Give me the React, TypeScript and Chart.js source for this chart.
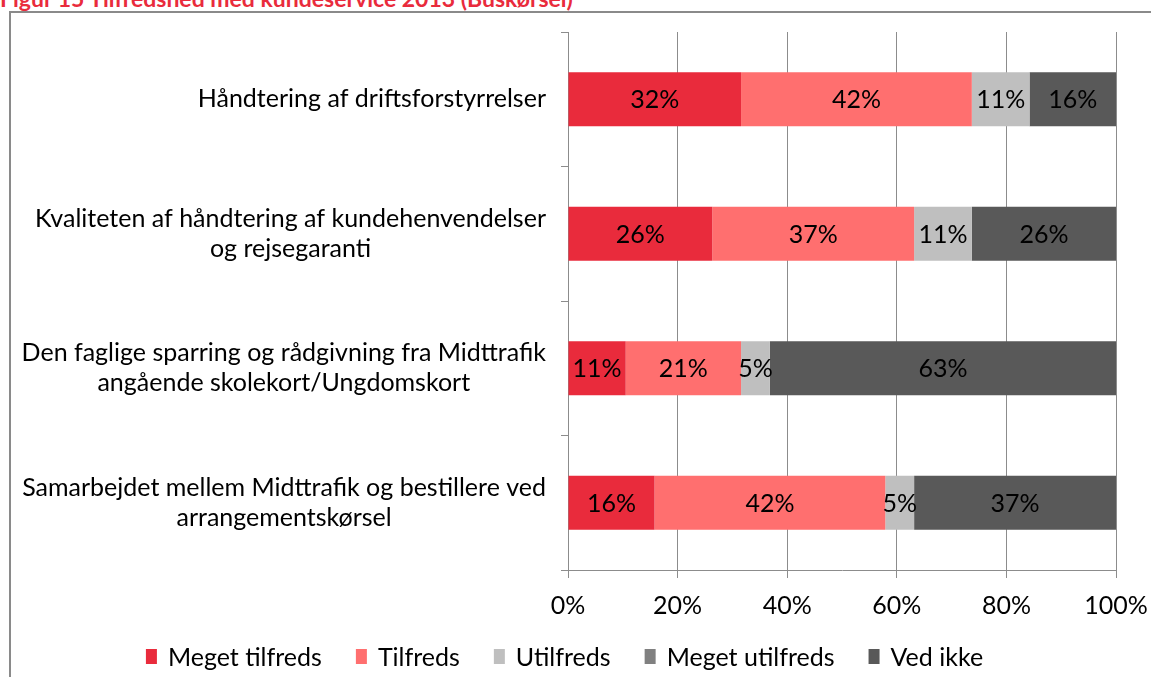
import React, { useEffect, useRef } from "react";
import { Chart, registerables } from "chart.js";

Chart.register(...registerables);

const TITLE = "Figur 15 Tilfredshed med kundeservice 2013 (Buskørsel)";

const categories: string[][] = [
  ["Håndtering af driftsforstyrrelser"],
  ["Kvaliteten af håndtering af kundehenvendelser", "og rejsegaranti"],
  ["Den faglige sparring og rådgivning fra Midttrafik", "angående skolekort/Ungdomskort"],
  ["Samarbejdet mellem Midttrafik og bestillere ved", "arrangementskørsel"],
];

const seriesNames = ["Meget tilfreds", "Tilfreds", "Utilfreds", "Meget utilfreds", "Ved ikke"];
const seriesColors = ["#E92B3C", "#FF6F6F", "#BFBFBF", "#808080", "#595959"];

const megetTilfreds = [31.58, 26.32, 10.53, 15.79];
const tilfreds = [42.11, 36.84, 21.05, 42.11];
const utilfreds = [10.53, 10.53, 5.26, 5.26];
const megetUtilfreds = [0, 0, 0, 0];
const vedIkke = [15.79, 26.32, 63.16, 36.84];

const xTicks = [0, 20, 40, 60, 80, 100];

const FONT = "Lato";
const FS = 25;
const GRID = "#8C8C8C";

const valueLabels = {
  id: "valueLabels",
  afterDatasetsDraw(chart: any) {
    const ctx = chart.ctx;
    ctx.save();
    ctx.font = `${FS}px ${FONT}`;
    ctx.fillStyle = "#000";
    ctx.textAlign = "center";
    ctx.textBaseline = "middle";
    chart.data.datasets.forEach((ds: any, di: number) => {
      const meta = chart.getDatasetMeta(di);
      meta.data.forEach((bar: any, i: number) => {
        const v = ds.data[i];
        if (!v) return;
        ctx.fillText(`${Math.round(v)}%`, (bar.x + bar.base) / 2, bar.y + 1);
      });
    });
    ctx.restore();
  },
};

const categoryLabels = {
  id: "categoryLabels",
  afterDraw(chart: any) {
    const ctx = chart.ctx;
    const y = chart.scales.y;
    const right = chart.chartArea.left - 22;
    const lh = 30;
    ctx.save();
    ctx.font = `${FS}px ${FONT}`;
    ctx.fillStyle = "#000";
    ctx.textAlign = "center";
    ctx.textBaseline = "middle";
    categories.forEach((lines, i) => {
      const cy = y.getPixelForTick(i);
      const w = Math.max(...lines.map((l) => ctx.measureText(l).width));
      const cx = right - w / 2;
      const y0 = cy - ((lines.length - 1) * lh) / 2;
      lines.forEach((l, k) => ctx.fillText(l, cx, y0 + k * lh));
    });
    ctx.restore();
  },
};

const bottomLegend = {
  id: "bottomLegend",
  afterDraw(chart: any) {
    const ctx = chart.ctx;
    const boxW = 11;
    const boxH = 15;
    const gap = 11;
    const spacing = 34;
    ctx.save();
    ctx.font = `${FS}px ${FONT}`;
    const items = chart.data.datasets.map((ds: any) => ({
      text: ds.label,
      color: ds.backgroundColor,
      w: ctx.measureText(ds.label).width,
    }));
    const total =
      items.reduce((s: number, it: any) => s + boxW + gap + it.w, 0) + spacing * (items.length - 1);
    let x = chart.width / 2 - 11 - total / 2;
    const cy = chart.height - 20.5;
    ctx.textAlign = "left";
    ctx.textBaseline = "middle";
    items.forEach((it: any) => {
      ctx.fillStyle = it.color;
      ctx.fillRect(x, cy - boxH / 2, boxW, boxH);
      ctx.fillStyle = "#000";
      ctx.fillText(it.text, x + boxW + gap, cy + 1);
      x += boxW + gap + it.w + spacing;
    });
    ctx.restore();
  },
};

export default function App() {
  const ref = useRef<HTMLCanvasElement>(null);
  useEffect(() => {
    if (!ref.current) return;
    const series = [megetTilfreds, tilfreds, utilfreds, megetUtilfreds, vedIkke];
    const chart = new Chart(ref.current, {
      type: "bar",
      data: {
        labels: categories.map((c) => c.join(" ")),
        datasets: series.map((d, i) => ({
          label: seriesNames[i],
          data: d,
          backgroundColor: seriesColors[i],
          borderWidth: 0,
          categoryPercentage: 0.4,
          barPercentage: 1,
        })),
      },
      options: {
        indexAxis: "y",
        animation: false,
        responsive: false,
        layout: { padding: { left: 0, right: 35, top: 32, bottom: 41 } },
        scales: {
          x: {
            stacked: true,
            min: 0,
            max: 100,
            afterBuildTicks: (s: any) => {
              s.ticks = xTicks.map((v) => ({ value: v }));
            },
            afterFit: (s: any) => {
              s.height = 66;
              s.paddingRight = 0;
              s.paddingLeft = 0;
            },
            ticks: {
              callback: (v: any) => `${v}%`,
              font: { family: FONT, size: FS },
              color: "#000",
              padding: 13,
              maxRotation: 0,
            },
            grid: { color: GRID, tickLength: 8, lineWidth: 1 },
            border: { color: GRID },
          },
          y: {
            stacked: true,
            afterFit: (s: any) => {
              s.width = 568;
            },
            ticks: { display: false },
            grid: { drawOnChartArea: false, color: GRID, tickLength: 7, offset: true },
            border: { color: GRID },
          },
        },
        plugins: {
          legend: { display: false },
          tooltip: { enabled: false },
        },
      },
      plugins: [valueLabels, categoryLabels, bottomLegend],
    });
    return () => chart.destroy();
  }, []);

  return (
    <div style={{ position: "fixed", left: 0, top: 0, width: 1151, height: 677, background: "#fff", overflow: "hidden" }}>
      <div
        style={{
          position: "absolute",
          left: 0,
          top: -14,
          fontFamily: FONT,
          fontWeight: "bold",
          fontSize: 23,
          lineHeight: "24px",
          color: "#E92B3C",
          whiteSpace: "nowrap",
        }}
      >
        {TITLE}
      </div>
      <div
        style={{
          position: "absolute",
          left: 9,
          top: 11,
          width: 1200,
          height: 700,
          border: "2px solid #8A8A8A",
          boxSizing: "border-box",
        }}
      />
      <canvas ref={ref} width={1151} height={677} style={{ position: "absolute", left: 0, top: 0 }} />
    </div>
  );
}
